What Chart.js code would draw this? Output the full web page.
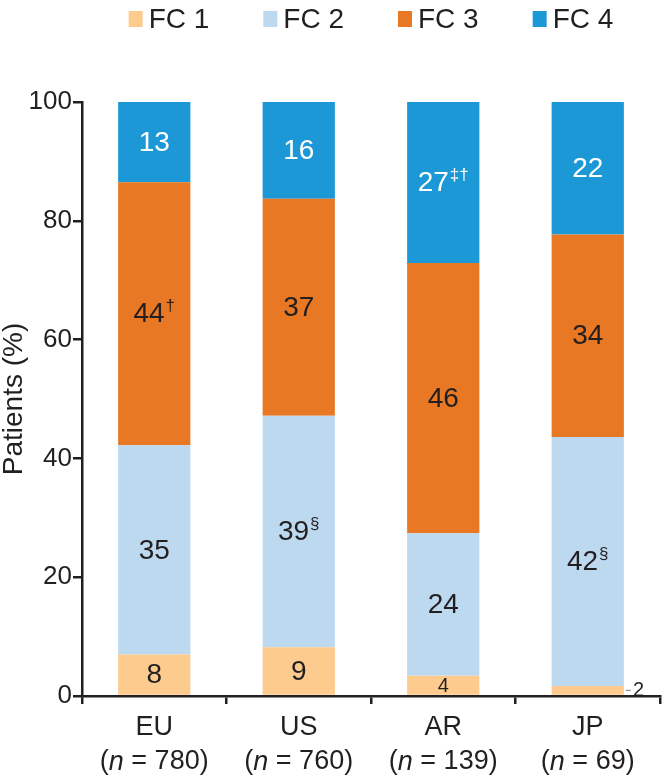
<!DOCTYPE html>
<html>
<head>
<meta charset="utf-8">
<script src="https://cdn.jsdelivr.net/npm/chart.js@4.4.1/dist/chart.umd.min.js"></script>
<style>
  html, body { margin: 0; padding: 0; background: #fff; }
  #wrap { position: relative; width: 666px; height: 777px; }
</style>
</head>
<body>
<div id="wrap"><canvas id="chart"></canvas></div>
<script>
(function () {
  'use strict';

  // ── Data ──
  var REGIONS = ['EU', 'US', 'AR', 'JP'];
  var N_VALUES = ['780', '760', '139', '69'];
  var SERIES_NAMES = ['FC 1', 'FC 2', 'FC 3', 'FC 4'];

  // segment heights (%) as drawn
  var FC1 = [7.0, 8.2, 3.4, 1.7];
  var FC2 = [35.2, 39.0, 24.0, 41.9];
  var FC3 = [44.3, 36.5, 45.5, 34.1];
  var FC4 = [13.5, 16.3, 27.1, 22.3];

  // printed labels + superscript marks
  var FC1_LABELS = ['8', '9', '4', '2'];
  var FC2_LABELS = ['35', '39', '24', '42'];
  var FC3_LABELS = ['44', '37', '46', '34'];
  var FC4_LABELS = ['13', '16', '27', '22'];
  var FC1_SUP = ['', '', '', ''];
  var FC2_SUP = ['', '\u00a7', '', '\u00a7'];
  var FC3_SUP = ['\u2020', '', '', ''];
  var FC4_SUP = ['', '', '\u2021\u2020', ''];

  var Y_MIN = 0, Y_MAX = 100, Y_STEP = 20;

  // ── Style ──
  var COLORS = {
    fc1:  '#fccb8d',
    fc2:  '#bdd9f0',
    fc3:  '#e97824',
    fc4:  '#1c98d6',
    text: '#231f20',
    axis: '#231f20'
  };
  var FONT = '"Liberation Sans", Arial, Helvetica, sans-serif';

  var LABELS = [FC1_LABELS, FC2_LABELS, FC3_LABELS, FC4_LABELS];
  var SUPS = [FC1_SUP, FC2_SUP, FC3_SUP, FC4_SUP];
  var LABEL_COLORS = [COLORS.text, COLORS.text, COLORS.text, '#ffffff'];

  // ── Segment value labels ──
  var segmentLabels = {
    id: 'segmentLabels',
    afterDatasetsDraw: function (chart) {
      var ctx = chart.ctx;
      ctx.save();
      ctx.textBaseline = 'middle';
      for (var d = 0; d < chart.data.datasets.length; d++) {
        var meta = chart.getDatasetMeta(d);
        for (var i = 0; i < meta.data.length; i++) {
          var el = meta.data[i];
          var main = LABELS[d][i];
          var sup = SUPS[d][i];
          var h = Math.abs(el.base - el.y);
          var cy = (el.y + el.base) / 2;

          if (h < 14) {
            // too thin: label outside, right of the bar, with a short leader
            var rx = el.x + el.width / 2;
            ctx.strokeStyle = '#777';
            ctx.lineWidth = 1;
            ctx.beginPath();
            ctx.moveTo(rx + 2, cy);
            ctx.lineTo(rx + 7, cy);
            ctx.stroke();
            ctx.fillStyle = COLORS.text;
            ctx.font = '20px ' + FONT;
            ctx.textAlign = 'left';
            ctx.fillText(main, rx + 9, cy);
            continue;
          }

          var size = h < 26 ? 20 : 28;
          ctx.font = size + 'px ' + FONT;
          var wMain = ctx.measureText(main).width;
          ctx.font = '17px ' + FONT;
          var wSup = sup ? ctx.measureText(sup).width + 1 : 0;
          var x0 = el.x - (wMain + wSup) / 2;

          ctx.fillStyle = LABEL_COLORS[d];
          ctx.textAlign = 'left';
          ctx.font = size + 'px ' + FONT;
          ctx.fillText(main, x0, cy + 1);
          if (sup) {
            ctx.font = '17px ' + FONT;
            ctx.fillText(sup, x0 + wMain + 1, cy - 7);
          }
        }
      }
      ctx.restore();
    }
  };

  // ── Second line of category labels, with italic n ──
  var sampleSizes = {
    id: 'sampleSizes',
    afterDraw: function (chart) {
      var ctx = chart.ctx;
      var xs = chart.scales.x;
      var y = xs.top + 66;
      ctx.save();
      ctx.fillStyle = COLORS.text;
      ctx.textBaseline = 'middle';
      ctx.textAlign = 'left';
      for (var i = 0; i < N_VALUES.length; i++) {
        var parts = [
          { t: '(', f: '27px ' + FONT },
          { t: 'n', f: 'italic 27px ' + FONT },
          { t: ' = ' + N_VALUES[i] + ')', f: '27px ' + FONT }
        ];
        var total = 0;
        for (var p = 0; p < parts.length; p++) {
          ctx.font = parts[p].f;
          parts[p].w = ctx.measureText(parts[p].t).width;
          total += parts[p].w;
        }
        var x = xs.getPixelForTick(i) - total / 2;
        for (p = 0; p < parts.length; p++) {
          ctx.font = parts[p].f;
          ctx.fillText(parts[p].t, x, y);
          x += parts[p].w;
        }
      }
      ctx.restore();
    }
  };

  // ── Legend row centred over the plot area ──
  var topLegend = {
    id: 'topLegend',
    afterDraw: function (chart) {
      var ctx = chart.ctx;
      var area = chart.chartArea;
      var boxW = 14, boxH = 16, gapText = 6, gapItem = 54;
      ctx.save();
      ctx.font = '28px ' + FONT;
      ctx.textBaseline = 'middle';
      ctx.textAlign = 'left';
      var ds = chart.data.datasets;
      var widths = [], total = 0;
      for (var i = 0; i < ds.length; i++) {
        widths[i] = boxW + gapText + ctx.measureText(ds[i].label).width;
        total += widths[i] + (i ? gapItem : 0);
      }
      var x = (area.left + area.right) / 2 - total / 2;
      var cy = 19;
      for (i = 0; i < ds.length; i++) {
        ctx.fillStyle = ds[i].backgroundColor;
        ctx.fillRect(x, cy - boxH / 2, boxW, boxH);
        ctx.fillStyle = COLORS.text;
        ctx.fillText(ds[i].label, x + boxW + gapText, cy + 1);
        x += widths[i] + gapItem;
      }
      ctx.restore();
    }
  };

  var seriesData = [FC1, FC2, FC3, FC4];
  var seriesColors = [COLORS.fc1, COLORS.fc2, COLORS.fc3, COLORS.fc4];
  var datasets = [];
  for (var s = 0; s < seriesData.length; s++) {
    datasets.push({
      label: SERIES_NAMES[s],
      data: seriesData[s],
      backgroundColor: seriesColors[s],
      borderWidth: 0,
      categoryPercentage: 1.0,
      barPercentage: 0.5
    });
  }

  new Chart(document.getElementById('chart'), {
    type: 'bar',
    data: { labels: REGIONS, datasets: datasets },
    plugins: [segmentLabels, sampleSizes, topLegend],
    options: {
      responsive: true,
      maintainAspectRatio: false,
      animation: false,
      layout: { padding: { top: 102, right: 6, left: 0, bottom: 0 } },
      plugins: {
        legend: { display: false },
        tooltip: { enabled: false }
      },
      scales: {
        x: {
          stacked: true,
          grid: {
            display: true,
            drawOnChartArea: false,
            drawTicks: true,
            tickLength: 8,
            lineWidth: 2.5,
            color: COLORS.axis,
            offset: true
          },
          border: { display: true, color: COLORS.axis, width: 2.5 },
          ticks: {
            color: COLORS.text,
            font: { size: 27, family: FONT },
            padding: 7,
            maxRotation: 0
          },
          afterFit: function (scale) { scale.height = 81; }
        },
        y: {
          stacked: true,
          min: Y_MIN,
          max: Y_MAX,
          grid: {
            display: true,
            drawOnChartArea: false,
            drawTicks: true,
            tickLength: 9,
            lineWidth: 2.5,
            color: COLORS.axis
          },
          border: { display: true, color: COLORS.axis, width: 2.5 },
          ticks: {
            stepSize: Y_STEP,
            color: COLORS.text,
            font: { size: 26, family: FONT },
            padding: 1
          },
          title: {
            display: true,
            text: 'Patients (%)',
            color: COLORS.text,
            font: { size: 28, family: FONT, lineHeight: 1 },
            padding: 0
          },
          afterFit: function (scale) { scale.width = 82; }
        }
      }
    }
  });
})();
</script>
</body>
</html>
